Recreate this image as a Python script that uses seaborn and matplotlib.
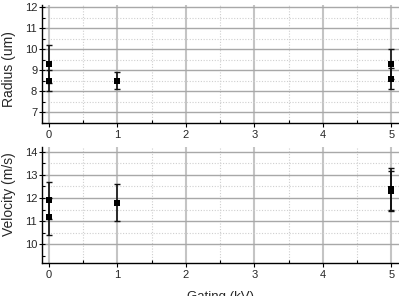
import matplotlib
matplotlib.use("Agg")
import matplotlib.pyplot as plt
import seaborn as sns
import pandas as pd
from matplotlib.ticker import MultipleLocator

# Data
x_a = [0, 1, 5]
x_b = [0, 5]
radius_a = [9.3, 8.5, 9.3]
radius_a_err = [0.9, 0.4, 0.7]
radius_b = [8.5, 8.6]
radius_b_err = [0.5, 0.5]
vel_a = [11.9, 11.8, 12.4]
vel_a_err = [0.8, 0.8, 0.9]
vel_b = [11.2, 12.3]
vel_b_err = [0.8, 0.85]

x_ticks = [0, 1, 2, 3, 4, 5]

sns.set_theme(style="white")
plt.rcParams['font.family'] = ['Liberation Sans', 'DejaVu Sans']

fig = plt.figure(figsize=(3.99, 2.96), dpi=100)
ax1 = fig.add_axes([0.1053, 0.5845, 0.8947, 0.3986])
ax2 = fig.add_axes([0.1053, 0.1115, 0.8947, 0.3919])

def style(ax, ylim, yticks, ylabel, label_y):
    ax.set_xlim(-0.1, 5.11)
    ax.set_ylim(*ylim)
    ax.set_xticks(x_ticks)
    ax.set_yticks(yticks)
    ax.xaxis.set_minor_locator(MultipleLocator(0.5))
    ax.yaxis.set_minor_locator(MultipleLocator(0.5))
    ax.grid(False)
    for x in x_ticks:
        ax.axvline(x, color='#c4c4c4', lw=1.5, zorder=0)
    for x in [0.5, 1.5, 2.5, 3.5, 4.5]:
        ax.axvline(x, color='#cfcfcf', lw=0.8, ls=(0, (1, 1.5)), zorder=0)
    ymin = int(ylim[0]) + 1
    for y in range(ymin, int(ylim[1]) + 1):
        ax.axhline(y, color='#a8a8a8', lw=1.0, zorder=0)
        ax.axhline(y + 0.5, color='#cfcfcf', lw=0.8, ls=(0, (1, 1.5)), zorder=0)
    for s in ['top', 'right']:
        ax.spines[s].set_visible(False)
    for s in ['left', 'bottom']:
        ax.spines[s].set_color('black')
        ax.spines[s].set_linewidth(1.0)
    ax.tick_params(axis='y', which='major', direction='inout', length=5, width=0.8,
                   labelsize=8, pad=1, left=True, color='black')
    ax.tick_params(axis='y', which='minor', direction='in', length=2.5, width=0.8,
                   left=True, color='black')
    ax.tick_params(axis='x', which='major', direction='out', length=3, width=0.8,
                   labelsize=8, pad=2, bottom=True, color='black')
    ax.tick_params(axis='x', which='minor', direction='in', length=2.5, width=0.8,
                   bottom=True, color='black')
    ax.set_ylabel(ylabel, fontsize=10)
    ax.yaxis.set_label_coords(-0.072, label_y)

def draw(ax, xs, ys, es):
    ax.errorbar(xs, ys, yerr=es, fmt='none', ecolor='#111111', elinewidth=1.2,
                capsize=2.5, capthick=1.0, zorder=3)
    df = pd.DataFrame({'x': xs, 'y': ys})
    sns.scatterplot(data=df, x='x', y='y', ax=ax, marker='s', color='black',
                    s=22, edgecolor='black', linewidth=0, zorder=4)

draw(ax1, x_a, radius_a, radius_a_err)
draw(ax1, x_b, radius_b, radius_b_err)
draw(ax2, x_a, vel_a, vel_a_err)
draw(ax2, x_b, vel_b, vel_b_err)

style(ax1, (6.5, 12.1), [7, 8, 9, 10, 11, 12], 'Radius (um)', 0.46)
style(ax2, (9.2, 14.2), [10, 11, 12, 13, 14], 'Velocity (m/s)', 0.59)
ax1.set_xlabel('')
ax2.set_xlabel('Gating (kV)', fontsize=9.5, labelpad=8)

fig.savefig('out.png', dpi=100)
